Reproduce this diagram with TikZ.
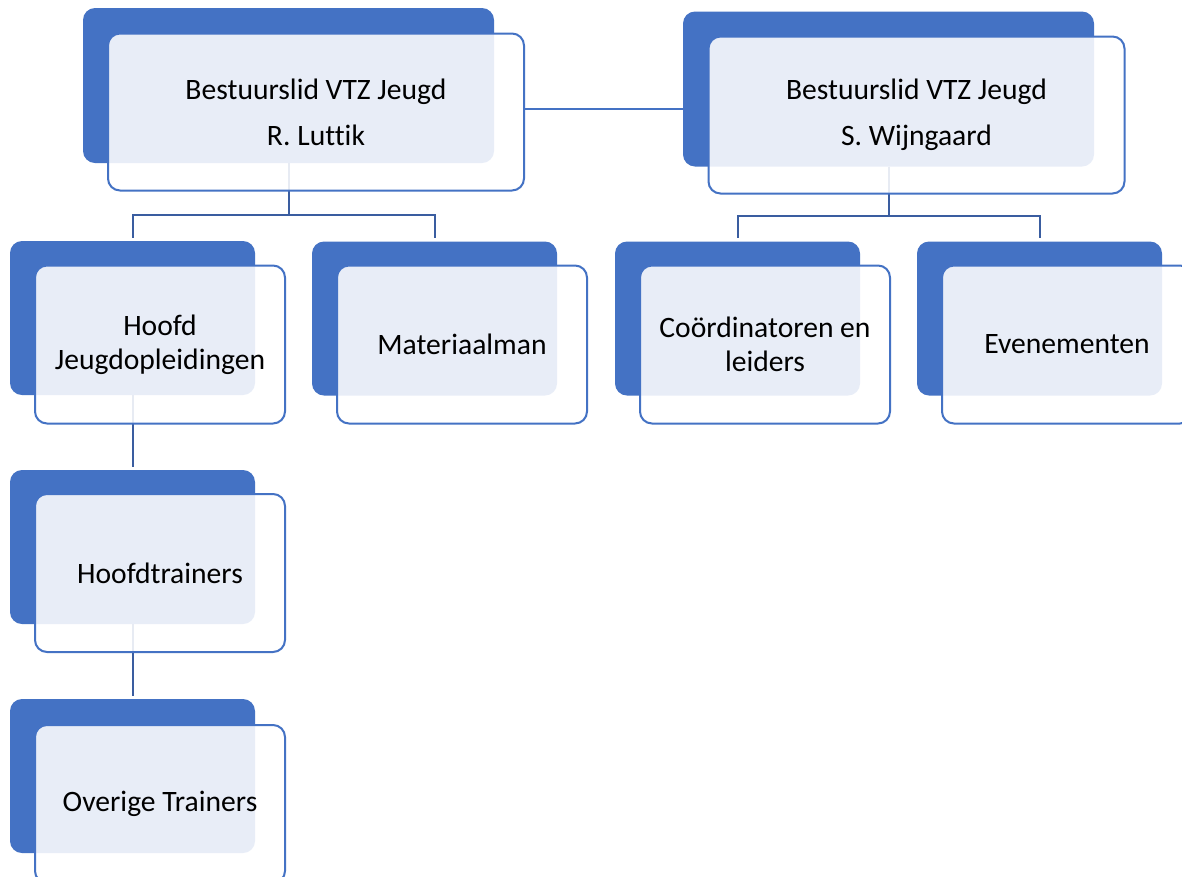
\documentclass[tikz,border=0pt]{standalone}
\usepackage{fontspec}
\setmainfont[Ligatures=NoCommon]{Carlito}
\usetikzlibrary{positioning}
\definecolor{vtzblue}{HTML}{4472C4}
\definecolor{vtzdark}{HTML}{3A5DA0}

\begin{document}
\begin{tikzpicture}[x=1pt,y=-1pt]
		\tikzset{backbox/.style={rectangle,rounded corners=12pt,fill=vtzblue,minimum width=245pt,minimum height=154pt,inner sep=0pt}}
		\tikzset{frontbox/.style={rectangle,rounded corners=12pt,draw=vtzblue,line width=2pt,fill=white,fill opacity=0.88,text opacity=1,minimum width=250pt,minimum height=158pt,inner sep=0pt,align=center,font=\fontsize{29.6}{34}\selectfont}}
		\tikzset{topback/.style={backbox,minimum width=411pt,minimum height=155pt}}
		\tikzset{topfront/.style={frontbox,minimum width=416pt,minimum height=157pt}}
		\tikzset{conn/.style={draw=vtzdark,line width=2pt,shorten >=3pt}}
		\fill[white] (0,0) rectangle (1182,876);
		\useasboundingbox (0,0) rectangle (1182,876);
		\node[topback] (luttikB) at (288.5,85.5) {};
		\node[topback] (wijngaardB) at (888.5,89) {};
		\node[backbox] (hoofdB) at (132.5,318) {};
		\node[backbox] (materiaalB) at (434.5,318.5) {};
		\node[backbox] (coordB) at (737.5,318.5) {};
		\node[backbox] (evenB) at (1039.5,318.5) {};
		\node[backbox] (trainersB) at (132.5,547) {};
		\node[backbox] (overigB) at (132.5,776) {};
		\draw[conn] (luttikB.south) -- ++(0,52) -| (hoofdB.north);
		\draw[conn] (luttikB.south) -- ++(0,52) -| (materiaalB.north);
		\draw[conn] (wijngaardB.south) -- ++(0,49) -| (coordB.north);
		\draw[conn] (wijngaardB.south) -- ++(0,49) -| (evenB.north);
		\draw[conn] (hoofdB.south) -- (trainersB.north);
		\draw[conn] (trainersB.south) -- (overigB.north);
		\node[topfront] (luttik) at ([shift={(27.5,26.5)}]luttikB.center) {Bestuurslid VTZ Jeugd\\[12pt]R. Luttik};
		\node[topfront] (wijngaard) at ([shift={(28,26)}]wijngaardB.center) {Bestuurslid VTZ Jeugd\\[12pt]S. Wijngaard};
		\node[frontbox] (hoofd) at ([shift={(27.5,26.5)}]hoofdB.center) {Hoofd\\Jeugdopleidingen};
		\node[frontbox] (materiaal) at ([shift={(27.5,26)}]materiaalB.center) {Materiaalman};
		\node[frontbox] (coord) at ([shift={(27.5,26)}]coordB.center) {Coördinatoren en\\leiders};
		\node[frontbox] (even) at ([shift={(27.5,26)}]evenB.center) {Evenementen};
		\node[frontbox] (trainers) at ([shift={(27.5,26)}]trainersB.center) {Hoofdtrainers};
		\node[frontbox] (overig) at ([shift={(27.5,28)}]overigB.center) {Overige Trainers};
		\draw[vtzblue,line width=1.5pt] ([yshift=3pt]luttik.east) -- ([yshift=3pt]luttik.east -| wijngaardB.west);
\end{tikzpicture}
\end{document}
